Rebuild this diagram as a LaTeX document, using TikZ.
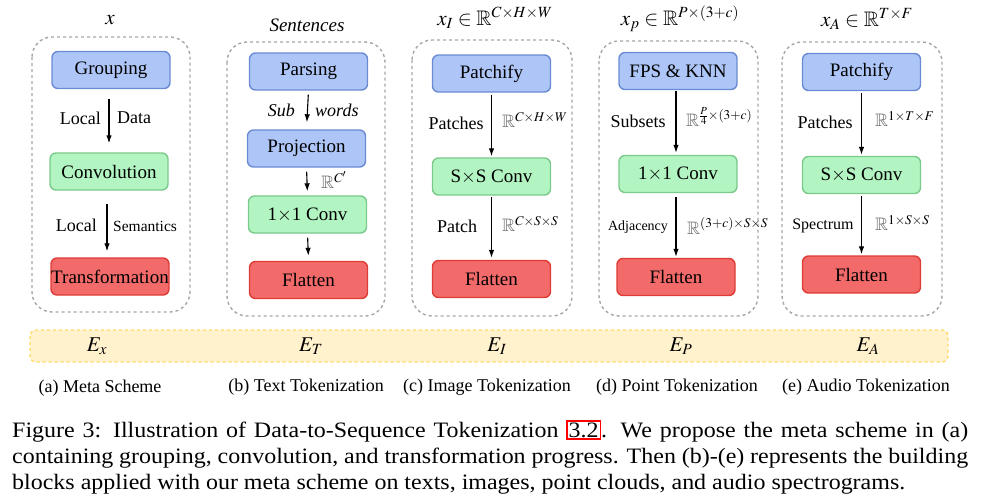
\documentclass[tikz,border=0pt]{standalone}
\usepackage{amssymb}
\usepackage{mathptmx}
\usepackage{fontspec}
\setmainfont{Liberation Serif}
\newfontfamily\capfont[FakeStretch=1.09]{Liberation Serif}
\usetikzlibrary{arrows.meta,positioning}
\definecolor{groupblue}{HTML}{AEC6F7}
\definecolor{groupblueline}{HTML}{6A8BD3}
\definecolor{convgreen}{HTML}{B2F5C2}
\definecolor{convgreenline}{HTML}{7CC98C}
\definecolor{transred}{HTML}{F26A6A}
\definecolor{transredline}{HTML}{DF3C36}
\definecolor{bandfill}{HTML}{FFF2CC}
\definecolor{bandline}{HTML}{FFD966}
\newcommand{\Rset}{{\color{black!60}\mathbb{R}}}

\begin{document}
\begin{tikzpicture}[x=1pt, y=-1pt,
  blk/.style={rounded corners=6pt, line width=1.4pt, minimum width=118pt, minimum height=37pt, inner sep=0pt, font=\fontsize{19}{21}\selectfont},
  grp/.style={blk, fill=groupblue, draw=groupblueline},
  cnv/.style={blk, fill=convgreen, draw=convgreenline},
  trf/.style={blk, fill=transred, draw=transredline},
  panel/.style={draw=gray!70, dashed, line width=1.4pt, rounded corners=20pt},
  flow/.style={-{Latex[length=8pt,width=5.5pt]}, line width=1.1pt},
  lbl/.style={font=\fontsize{18}{20}\selectfont, inner sep=1pt},
  dim/.style={font=\fontsize{18}{20}\selectfont, inner sep=1pt, anchor=west},
  title/.style={font=\fontsize{21}{23}\selectfont},
  sub/.style={font=\fontsize{18}{20}\selectfont}]
\useasboundingbox (0,0) rectangle (982,499);

% dashed frames
\draw[panel] (32,37) rectangle (190,312);
\draw[panel] (227,42) rectangle (385,316);
\draw[panel] (412,40) rectangle (572,316);
\draw[panel] (599,41) rectangle (758,316);
\draw[panel] (782,42) rectangle (942,316);

% (a) meta scheme
\node[title] (tx) at (110,20) {$x$};
\node[grp] (grouping) at (111,70) {Grouping};
\node[cnv] (convolution) at (109,171.5) {Convolution};
\node[trf] (transform) at (110,276.5) {Transformation};
\draw[flow, shorten <=10pt, shorten >=9pt] (grouping.south -| 109,0) -- (convolution.north -| 109,0);
\draw[flow, shorten <=13pt, shorten >=6pt] (convolution.south -| 107,0) -- (transform.north -| 107,0);
\node[lbl, anchor=east] (la) at (102,118) {Local};
\node[lbl, anchor=west] (da) at (116,118) {Data};
\node[lbl, anchor=east] (lb) at (98,225) {Local};
\node[lbl, anchor=west, font=\fontsize{15.5}{18}\selectfont] (sa) at (112,226) {Semantics};

% (b) text
\node[title, font=\fontsize{19}{21}\selectfont] (tt) at (307,25) {\itshape Sentences};
\node[grp] (parsing) at (308.5,71.5) {Parsing};
\node[grp] (project) at (306.5,148.5) {Projection};
\node[cnv] (convt) at (307.5,214.5) {1$\times$1 Conv};
\node[trf] (flatt) at (308.5,280) {Flatten};
\draw[flow, shorten <=4pt, shorten >=7pt] (parsing.south) -- (project.north);
\draw[flow, shorten <=4pt, shorten >=4pt] (project.south) -- (convt.north);
\draw[flow, shorten <=4pt, shorten >=5pt] (convt.south) -- (flatt.north);
\node[lbl, anchor=east] (sw) at (296,110) {\itshape Sub};
\node[lbl, anchor=west] (ww) at (314,110) {\itshape words};
\node[dim] (rc) at (320,180) {$\Rset^{C'}$};

% (c) image
\node[title] (ti) at (495,18) {$x_I \in \mathbb{R}^{C\times H\times W}$};
\node[grp] (patchi) at (491.5,73.5) {Patchify};
\node[cnv] (convi) at (491.5,176.5) {S$\times$S Conv};
\node[trf] (flati) at (491.5,279) {Flatten};
\draw[flow, shorten <=2pt, shorten >=1pt] (patchi.south) -- (convi.north);
\draw[flow, shorten <=1pt, shorten >=2pt] (convi.south) -- (flati.north);
\node[lbl] (pi) at (456,123) {Patches};
\node[dim] (ri) at (501,120) {$\Rset^{C\times H\times W}$};
\node[lbl] (pci) at (457,226) {Patch};
\node[dim] (rsi) at (501,224) {$\Rset^{C\times S\times S}$};

% (d) point
\node[title] (tp) at (680,19) {$x_p \in \mathbb{R}^{P\times(3+c)}$};
\node[grp] (fps) at (678,71) {FPS \& KNN};
\node[cnv] (convp) at (678,174) {1$\times$1 Conv};
\node[trf] (flatp) at (676,277) {Flatten};
\draw[flow, shorten <=1pt, shorten >=2pt] (fps.south -| 676,0) -- (convp.north -| 676,0);
\draw[flow, shorten <=4pt, shorten >=1pt] (convp.south -| 676,0) -- (flatp.north -| 676,0);
\node[lbl] (sp) at (638,121) {Subsets};
\node[dim] (rp) at (685,117) {$\Rset^{\frac{P}{4}\times(3+c)}$};
\node[lbl, font=\fontsize{14}{16}\selectfont] (ap) at (638,227) {Adjacency};
\node[dim] (rsp) at (686,226) {$\Rset^{(3+c)\times S\times S}$};

% (e) audio
\node[title] (ta) at (867,19) {$x_A \in \mathbb{R}^{T\times F}$};
\node[grp] (patcha) at (861.5,72) {Patchify};
\node[cnv] (conva) at (861.5,175) {S$\times$S Conv};
\node[trf] (flata) at (861.5,274.5) {Flatten};
\draw[flow, shorten <=2pt, shorten >=1pt] (patcha.south) -- (conva.north);
\draw[flow, shorten <=2pt, shorten >=1pt] (conva.south) -- (flata.north);
\node[lbl] (pa) at (825,122) {Patches};
\node[dim] (ra) at (874,119) {$\Rset^{1\times T\times F}$};
\node[lbl, font=\fontsize{16}{18}\selectfont] (spa) at (823,226) {Spectrum};
\node[dim] (rsa) at (874,223) {$\Rset^{1\times S\times S}$};

% embedding band
\draw[fill=bandfill, draw=bandline, dashed, line width=1.4pt, rounded corners=6pt] (30,330) rectangle (948,362);
\foreach \e/\xx in {x/97, T/311, I/497, P/681, A/868}
  \node[font=\fontsize{21}{23}\selectfont] (e\e) at (\xx,346) {$E_{\e}$};

% sub-captions
\node[sub] (ca) at (100,388) {(a) Meta Scheme};
\node[sub] (cb) at (306,387) {(b) Text Tokenization};
\node[sub] (cc) at (487,387) {(c) Image Tokenization};
\node[sub] (cd) at (677,387) {(d) Point Tokenization};
\node[sub] (ce) at (866,387) {(e) Audio Tokenization};

% caption
\node[anchor=north west, inner sep=0pt, text width=956pt, align=justify,
      font=\capfont\fontsize{22}{26}\selectfont] (cap) at (12,420)
  {\hyphenpenalty=10000 Figure 3: Illustration of Data-to-Sequence Tokenization
   {\fboxsep=1pt\fboxrule=1.4pt\fcolorbox{red}{white}{3.2}}. We propose the meta scheme in (a)\linebreak
   containing grouping, convolution, and transformation progress. Then (b)-(e) represents the building\linebreak
   blocks applied with our meta scheme on texts, images, point clouds, and audio spectrograms.};
\end{tikzpicture}
\end{document}
